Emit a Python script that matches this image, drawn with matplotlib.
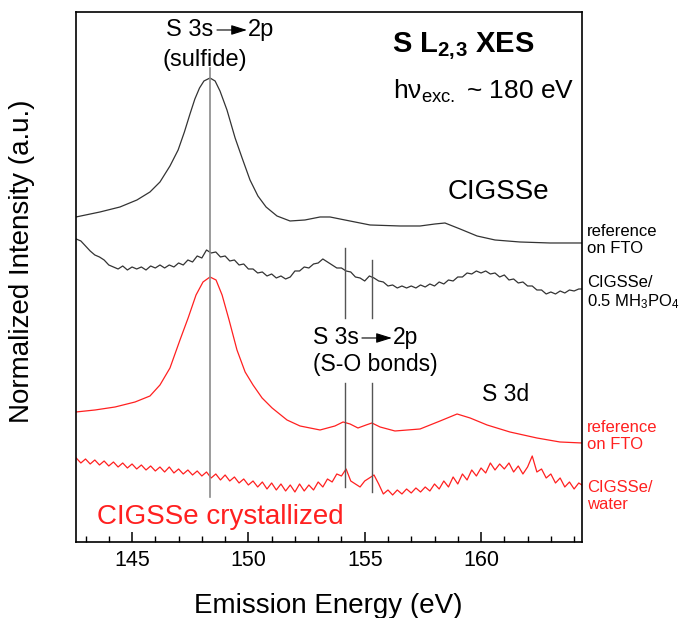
import numpy as np
import matplotlib
matplotlib.use("Agg")
import matplotlib.pyplot as plt
import matplotlib.ticker as ticker

# ----------------------------------------------------------------
# Data (intensity in arbitrary units)
# ----------------------------------------------------------------
# CIGSSe reference on FTO (black, smooth)
ref_blk_e = [142.59, 143.62, 144.48, 145.21, 145.77, 146.20, 146.63, 146.98, 147.25,
             147.49, 147.70, 147.90, 148.09, 148.35, 148.57, 148.78, 149.08, 149.43,
             149.73, 150.07, 150.41, 150.76, 151.23, 151.79, 152.43, 153.08, 153.51,
             154.15, 155.23, 156.52, 157.38, 158.02, 158.45, 159.10, 159.83, 160.60,
             161.67, 162.96, 164.34]
ref_blk_i = [325, 330, 335, 342, 350, 360, 376, 392, 410,
             428, 443, 454, 461, 464, 461, 451, 432, 404,
             384, 362, 346, 335, 326, 321, 322, 325, 325,
             322, 317, 316, 316, 318, 319, 313, 306, 302,
             300, 299, 299]

# CIGSSe / 0.5 M H3PO4 (black, noisy), 0.2 eV grid from 142.6 eV
acid_start, acid_step = 142.6, 0.2
acid_i = [303, 301, 296, 291, 287, 285, 282, 277, 275, 273,
          276, 272, 275, 273, 275, 272, 276, 274, 277, 274,
          277, 275, 279, 277, 282, 280, 286, 284, 292, 289,
          290, 285, 286, 281, 282, 277, 278, 273, 273, 269,
          270, 266, 268, 264, 266, 263, 265, 271, 271, 275,
          274, 278, 279, 283, 280, 277, 274, 274, 271, 270,
          265, 264, 261, 266, 264, 261, 260, 256, 257, 254,
          256, 254, 256, 254, 257, 255, 258, 256, 260, 258,
          262, 261, 265, 265, 269, 268, 271, 269, 271, 268,
          269, 265, 267, 262, 263, 259, 260, 256, 256, 252,
          252, 248, 250, 248, 251, 249, 252, 251, 253, 253]

# CIGSSe crystallized reference on FTO (red, smooth)
ref_red_e = [142.59, 143.41, 144.27, 145.13, 145.77, 146.20, 146.63, 147.06, 147.41,
             147.75, 148.05, 148.35, 148.61, 148.87, 149.17, 149.51, 149.86, 150.20,
             150.59, 151.02, 151.66, 152.22, 153.08, 153.72, 154.07, 154.37, 154.71,
             155.06, 155.31, 155.66, 156.30, 157.38, 158.24, 158.97, 159.53, 160.26,
             161.24, 162.40, 163.39, 164.34]
ref_red_i = [130, 132, 135, 140, 146, 157, 174, 202, 224,
             247, 260, 265, 262, 247, 222, 192, 170, 157,
             144, 134, 122, 116, 112, 116, 120, 118, 114,
             117, 119, 115, 111, 113, 121, 128, 124, 117,
             110, 104, 100, 99]

# CIGSSe crystallized / water (red, noisy), 0.2 eV grid from 142.6 eV
water_start, water_step = 142.6, 0.2
water_i = [84, 79, 83, 78, 82, 77, 81, 76, 80, 75,
           79, 74, 78, 73, 77, 72, 76, 71, 75, 70,
           75, 69, 73, 68, 72, 67, 71, 66, 70, 64,
           68, 62, 67, 61, 65, 59, 63, 57, 61, 55,
           60, 53, 59, 52, 58, 51, 57, 50, 58, 51,
           57, 52, 60, 55, 63, 60, 68, 66, 73, 61,
           58, 55, 61, 64, 67, 58, 48, 52, 47, 52,
           48, 53, 49, 54, 50, 55, 51, 58, 53, 61,
           55, 65, 58, 68, 62, 72, 66, 74, 69, 79,
           72, 78, 73, 79, 70, 76, 68, 75, 86, 70,
           73, 64, 68, 59, 64, 55, 60, 53, 59, 56]

sulfide_e = 148.35
so_e = [154.15, 155.31]

xticks_major = [145, 150, 155, 160]

# ----------------------------------------------------------------
# Style
# ----------------------------------------------------------------
plt.rcParams.update({
    "font.family": "Liberation Sans",
    "mathtext.fontset": "custom",
    "mathtext.rm": "Liberation Sans",
    "mathtext.it": "Liberation Sans:italic",
    "mathtext.bf": "Liberation Sans:bold",
})

BLK = "#333333"
RED = "#ff2020"

fig = plt.figure(figsize=(6.82, 6.18), dpi=100)
ax = fig.add_axes([0.1114, 0.123, 0.742, 0.8576])

acid_e = acid_start + acid_step * np.arange(len(acid_i))
water_e = water_start + water_step * np.arange(len(water_i))

ax.plot(ref_blk_e, ref_blk_i, color=BLK, lw=0.9)
ax.plot(acid_e, acid_i, color=BLK, lw=0.9)
ax.plot(ref_red_e, ref_red_i, color=RED, lw=0.9)
ax.plot(water_e, water_i, color=RED, lw=0.9)

# marker lines
ax.plot([sulfide_e, sulfide_e], [45, 474], color="#8a8a8a", lw=1.2)
ax.plot([so_e[0], so_e[0]], [224, 294], color="#555555", lw=1.0)
ax.plot([so_e[1], so_e[1]], [224, 282], color="#555555", lw=1.0)
ax.plot([so_e[0], so_e[0]], [55, 159], color="#555555", lw=1.0)
ax.plot([so_e[1], so_e[1]], [50, 159], color="#555555", lw=1.0)

ax.set_xlim(142.59, 164.34)
ax.set_ylim(0, 530)
ax.set_yticks([])
ax.xaxis.set_major_locator(ticker.FixedLocator(xticks_major))
ax.xaxis.set_minor_locator(ticker.MultipleLocator(1))
ax.tick_params(axis="x", which="major", direction="in", length=7, width=1.1,
               labelsize=15.5, pad=6, top=False)
ax.tick_params(axis="x", which="minor", direction="in", length=4, width=1.0, top=False)
for s in ax.spines.values():
    s.set_linewidth(1.2)

ax.set_xlabel("Emission Energy (eV)", fontsize=20)
ax.xaxis.set_label_coords(0.498, -0.097)
ax.set_ylabel("Normalized Intensity (a.u.)", fontsize=20)
ax.yaxis.set_label_coords(-0.08, 0.53)

# annotations
arrow = dict(arrowstyle="-|>,head_length=0.8,head_width=0.25", color="black",
             lw=0.8, mutation_scale=12, shrinkA=0, shrinkB=0)
ax.text(146.46, 512, "S 3s", fontsize=17, va="center", ha="left")
ax.annotate("", xy=(149.94, 512), xytext=(148.65, 512), arrowprops=arrow)
ax.text(149.98, 512, "2p", fontsize=17, va="center", ha="left")
ax.text(146.33, 482, "(sulfide)", fontsize=17, va="center", ha="left")

ax.text(152.78, 204, "S 3s", fontsize=16.5, va="center", ha="left")
ax.annotate("", xy=(156.17, 204), xytext=(154.88, 204), arrowprops=arrow)
ax.text(156.22, 204, "2p", fontsize=16.5, va="center", ha="left")
ax.text(152.78, 177, "(S-O bonds)", fontsize=16.5, va="center", ha="left")

ax.text(156.17, 490, r"S L$_\mathbf{2,\!3}$ XES", fontsize=21, fontweight="bold",
        va="baseline", ha="left")
ax.text(156.22, 443, r"hν$_\mathrm{exc.}$ ~ 180 eV", fontsize=19,
        va="baseline", ha="left")

ax.text(158.58, 350, "CIGSSe", fontsize=20, va="center", ha="left")
ax.text(160.05, 147, "S 3d", fontsize=16.5, va="center", ha="left")
ax.text(143.50, 25, "CIGSSe crystallized", fontsize=20, color=RED,
        va="center", ha="left")

# right-hand sample labels
side = dict(fontsize=12, va="center", ha="left", linespacing=1.1, clip_on=False)
ax.text(164.55, 302, "reference\non FTO", **side)
ax.text(164.55, 249, "CIGSSe/\n0.5 MH$_3$PO$_4$", **side)
ax.text(164.55, 106, "reference\non FTO", color=RED, **side)
ax.text(164.55, 46, "CIGSSe/\nwater", color=RED, **side)

fig.savefig("out.png", dpi=100)
